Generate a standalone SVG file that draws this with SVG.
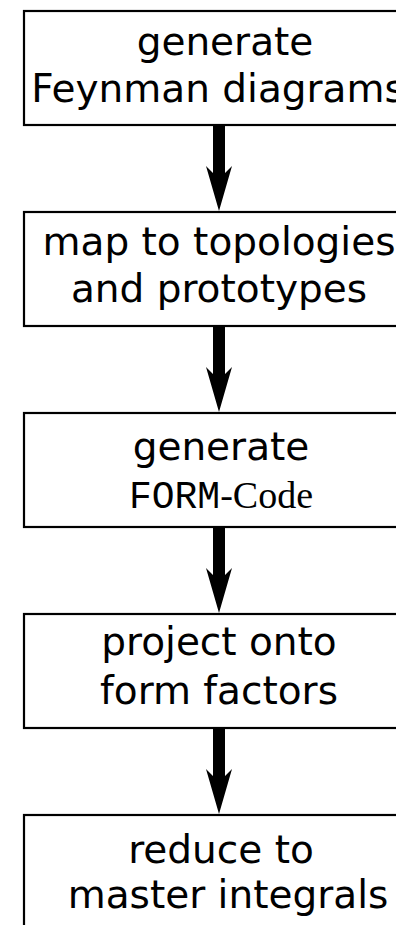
<svg xmlns="http://www.w3.org/2000/svg" width="396" height="925" viewBox="0 0 396 925">
<style>
.box{fill:#fff;stroke:#000;stroke-width:2.2}
.t{font-family:"DejaVu Sans",Verdana,sans-serif;font-size:39px;fill:#000;text-anchor:middle}
.mono{font-family:"Liberation Mono","Courier New",monospace;font-size:38px}
.serif{font-family:"Liberation Serif","Times New Roman",serif;font-size:38px}
.arr{fill:#000;stroke:none}
</style>
<defs>
<g id="arrow">
<rect x="213" y="0" width="12" height="56"/>
<polygon points="206,41 219,86 232,41 219,54"/>
</g>
</defs>
<rect width="396" height="925" fill="#fff"/>
<g id="connectors" class="arr">
<use href="#arrow" y="125"/>
<use href="#arrow" y="326"/>
<use href="#arrow" y="527"/>
<use href="#arrow" y="728"/>
</g>
<g id="n1">
<rect class="box" x="24" y="11" width="390" height="114"/>
<text class="t" x="225" y="55">generate</text>
<text class="t" x="218" y="102">Feynman diagrams</text>
</g>
<g id="n2">
<rect class="box" x="24" y="212" width="390" height="114"/>
<text class="t" x="219" y="255">map to topologies</text>
<text class="t" x="219" y="302">and prototypes</text>
</g>
<g id="n3">
<rect class="box" x="24" y="413" width="390" height="114"/>
<text class="t" x="221" y="460">generate</text>
<text class="t" x="221" y="508"><tspan class="mono">FORM</tspan><tspan class="serif">-Code</tspan></text>
</g>
<g id="n4">
<rect class="box" x="24" y="614" width="390" height="114"/>
<text class="t" x="219" y="655">project onto</text>
<text class="t" x="219" y="704">form factors</text>
</g>
<g id="n5">
<rect class="box" x="24" y="815" width="390" height="130"/>
<text class="t" x="221" y="863">reduce to</text>
<text class="t" x="228" y="908">master integrals</text>
</g>
</svg>
